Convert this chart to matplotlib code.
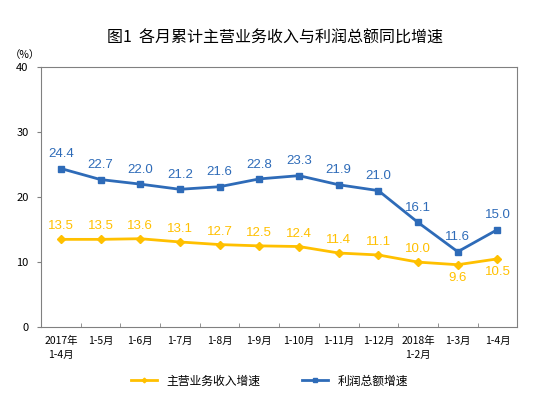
import numpy as np
import matplotlib
matplotlib.use("Agg")
import matplotlib.pyplot as plt

plt.rcParams['font.family'] = ['Noto Sans CJK SC', 'DejaVu Sans']

####################################### DATA #######################################
months = ["2017年\n1-4月", "1-5月", "1-6月", "1-7月", "1-8月", "1-9月", "1-10月",
          "1-11月", "1-12月", "2018年\n1-2月", "1-3月", "1-4月"]
revenue = [13.5, 13.5, 13.6, 13.1, 12.7, 12.5, 12.4, 11.4, 11.1, 10.0, 9.6, 10.5]
profit = [24.4, 22.7, 22.0, 21.2, 21.6, 22.8, 23.3, 21.9, 21.0, 16.1, 11.6, 15.0]
# which revenue labels sit below the point
revenue_below = [False] * 10 + [True, True]

yellow = "#FFC000"
blue = "#2E6BB8"

fig = plt.figure(figsize=(5.5, 3.97), dpi=100)
ax = fig.add_axes([0.0745, 0.176, 0.866, 0.655])

x = np.arange(len(months))
ax.plot(x, revenue, color=yellow, lw=2, marker="D", ms=4, label="主营业务收入增速")
ax.plot(x, profit, color=blue, lw=2, marker="s", ms=4, label="利润总额增速")

lab_font = ["Liberation Sans", "DejaVu Sans"]
for i in range(len(x)):
    ax.annotate(f"{profit[i]:.1f}", (x[i], profit[i]), xytext=(0, 6),
                textcoords="offset points", ha="center", va="bottom",
                color=blue, fontsize=9.5, family=lab_font)
    if revenue_below[i]:
        ax.annotate(f"{revenue[i]:.1f}", (x[i], revenue[i]), xytext=(0, -5),
                    textcoords="offset points", ha="center", va="top",
                    color=yellow, fontsize=9.5, family=lab_font)
    else:
        ax.annotate(f"{revenue[i]:.1f}", (x[i], revenue[i]), xytext=(0, 5),
                    textcoords="offset points", ha="center", va="bottom",
                    color=yellow, fontsize=9.5, family=lab_font)

ax.set_xlim(-0.5, len(months) - 0.5)
ax.set_ylim(0, 40)
ax.set_yticks([0, 10, 20, 30, 40])
ax.tick_params(axis="y", labelsize=8, length=3, color="#808080", pad=6)
ax.set_xticks(x)
ax.set_xticklabels(months, fontsize=7.5, linespacing=1.5)
ax.tick_params(axis="x", which="major", length=0, pad=6)
ax.set_xticks(np.arange(-0.5, len(months), 1.0), minor=True)
ax.tick_params(axis="x", which="minor", direction="in", length=3, color="#808080")
for s in ax.spines.values():
    s.set_color("#808080")

fig.text(0.5, 0.905, "图1  各月累计主营业务收入与利润总额同比增速", ha="center",
         va="center", fontsize=11.5)
fig.text(0.045, 0.862, "（%）", ha="center", va="center", fontsize=7.5)

fig.legend(loc="center", bbox_to_anchor=(0.49, 0.04), ncol=2, frameon=False,
           fontsize=8.5, handlelength=2.2, columnspacing=3.5, markerscale=0.6)

fig.savefig("out.png", dpi=100)
